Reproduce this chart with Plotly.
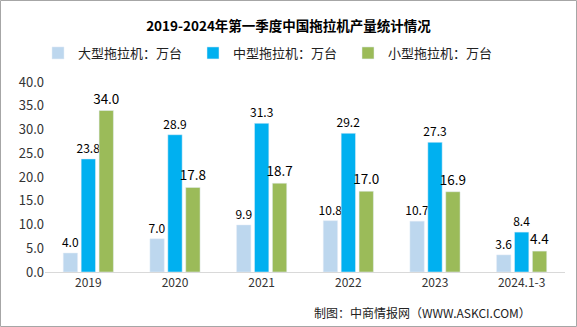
import plotly.graph_objects as go

categories = ["2019", "2020", "2021", "2022", "2023", "2024.1-3"]
large = [4.0, 7.0, 9.9, 10.8, 10.7, 3.6]
medium = [23.8, 28.9, 31.3, 29.2, 27.3, 8.4]
small = [34.0, 17.8, 18.7, 17.0, 16.9, 4.4]
series_names = ["大型拖拉机：万台", "中型拖拉机：万台", "小型拖拉机：万台"]
colors = ["#BDD7EE", "#00B0F0", "#9BBB59"]
label_sizes = [12, 12, 13.5]
y_ticks = [0, 5, 10, 15, 20, 25, 30, 35, 40]

W, H = 577, 327
ml, mr, mt, mb = 45, 12, 82, 55
pw, ph = W - ml - mr, H - mt - mb

fig = go.Figure()
for name, vals, c, ls in zip(series_names, [large, medium, small], colors, label_sizes):
    fig.add_trace(go.Bar(
        x=categories, y=vals, name=name, marker_color=c,
        text=[f"{v:.1f}" for v in vals], textposition="outside",
        constraintext="none",
        textfont=dict(size=ls, color="#000000", family="Noto Sans CJK SC"),
        cliponaxis=False,
    ))

fig.update_layout(
    width=W, height=H,
    margin=dict(l=ml, r=mr, t=mt, b=mb),
    paper_bgcolor="white", plot_bgcolor="white",
    barmode="group", bargap=0.38, bargroupgap=0.2,
    font=dict(family="Noto Sans CJK SC", color="#333333"),
    title=dict(text="<b>2019-2024年第一季度中国拖拉机产量统计情况</b>",
               x=0.5, xanchor="center", y=1 - 26 / H, yanchor="middle",
               font=dict(size=13.5, color="#000000")),
    legend=dict(orientation="h", x=(38 - ml) / pw, xanchor="left",
                y=1 + (mt - 53) / ph, yanchor="middle",
                entrywidth=110, entrywidthmode="pixels",
                font=dict(size=13, color="#222222"), itemwidth=30,
                traceorder="normal"),
    xaxis=dict(showline=True, linecolor="#D9D9D9", linewidth=1, ticks="",
               tickfont=dict(size=12, color="#333333"), showgrid=False),
    yaxis=dict(range=[0, 40], tickvals=y_ticks,
               ticktext=[f"{v:.1f}" for v in y_ticks],
               showgrid=False, zeroline=False, showline=False,
               tickfont=dict(size=13, color="#333333"), ticklen=0),
    showlegend=True,
)

fig.add_annotation(text="制图：中商情报网（WWW.ASKCI.COM）",
                   xref="paper", yref="paper",
                   x=(533 - ml) / pw, xanchor="right", y=-(312 - mt - ph) / ph, yanchor="middle",
                   showarrow=False, font=dict(size=12, color="#222222"))

fig.add_shape(type="rect", xref="paper", yref="paper",
              x0=-(ml - 0.5) / pw, x1=1 + (mr - 0.5) / pw,
              y0=-(mb - 0.5) / ph, y1=1 + (mt - 0.5) / ph,
              line=dict(color="#A6A6A6", width=1), fillcolor="rgba(0,0,0,0)")

fig.write_html("out.html")
